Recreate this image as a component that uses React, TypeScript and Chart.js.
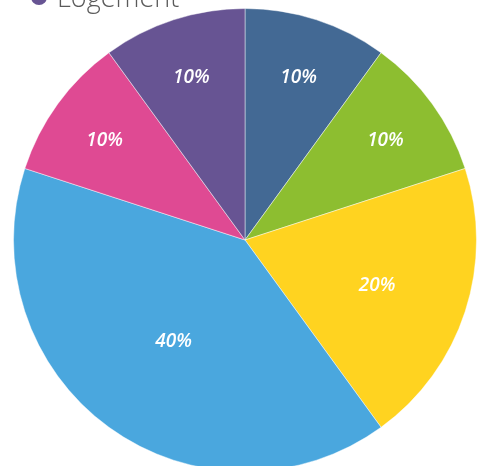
import React, { useEffect, useRef } from "react";
import { Chart, registerables } from "chart.js";

Chart.register(...registerables);

const categories = ["Catégorie 1", "Catégorie 2", "Catégorie 3", "Catégorie 4", "Catégorie 5", "Logement"];
const shares = [10, 10, 20, 40, 10, 10];
const sliceColors = ["#436994", "#8DBE30", "#FFD320", "#4AA7DE", "#DF4A93", "#675493"];
const legendLabel = "Logement";
const legendColor = "#675493";

const labelPlugin = {
  id: "sliceLabels",
  afterDatasetsDraw(chart: any) {
    const ctx = chart.ctx;
    const meta = chart.getDatasetMeta(0);
    const data = chart.data.datasets[0].data as number[];
    ctx.save();
    ctx.fillStyle = "#ffffff";
    ctx.font = "italic 600 19px 'Open Sans', sans-serif";
    ctx.textAlign = "center";
    ctx.textBaseline = "middle";
    meta.data.forEach((arc: any, i: number) => {
      const { x, y, startAngle, endAngle, outerRadius } = arc.getProps(
        ["x", "y", "startAngle", "endAngle", "outerRadius"],
        true
      );
      const mid = (startAngle + endAngle) / 2;
      const deg = ((endAngle - startAngle) * 180) / Math.PI;
      const f = Math.min(0.78, 0.45 + 0.3 * (36 / deg));
      const r = outerRadius * f;
      ctx.fillText(data[i] + "%", x + Math.cos(mid) * r, y + Math.sin(mid) * r + 3);
    });
    ctx.restore();
  },
};

export default function App() {
  const ref = useRef<HTMLCanvasElement | null>(null);
  useEffect(() => {
    if (!ref.current) return;
    const chart = new Chart(ref.current, {
      type: "pie",
      data: {
        labels: categories,
        datasets: [
          {
            data: shares,
            backgroundColor: sliceColors,
            borderColor: "rgba(255,255,255,0.45)",
            borderWidth: 1,
            hoverOffset: 0,
          },
        ],
      },
      options: {
        responsive: false,
        animation: false,
        devicePixelRatio: 1,
        layout: { padding: { left: 13, right: 13, top: 8, bottom: 8 } },
        plugins: {
          legend: { display: false },
          tooltip: { enabled: false },
        },
      },
      plugins: [labelPlugin],
    });
    return () => chart.destroy();
  }, []);

  return (
    <div style={{ position: "fixed", left: 0, top: 0, width: 477, height: 466, overflow: "hidden", background: "#fff" }}>
      <canvas ref={ref} width={490} height={480} style={{ position: "absolute", left: 0, top: 0, width: 490, height: 480 }} />
      <div style={{ position: "absolute", left: 31, top: -11, width: 16, height: 16, borderRadius: "50%", background: legendColor }} />
      <div
        style={{
          position: "absolute",
          left: 57,
          top: -17,
          fontFamily: "'Open Sans', sans-serif",
          fontWeight: 300,
          fontSize: 27,
          lineHeight: "27px",
          color: "#5a5a5a",
          whiteSpace: "nowrap",
        }}
      >
        {legendLabel}
      </div>
    </div>
  );
}
